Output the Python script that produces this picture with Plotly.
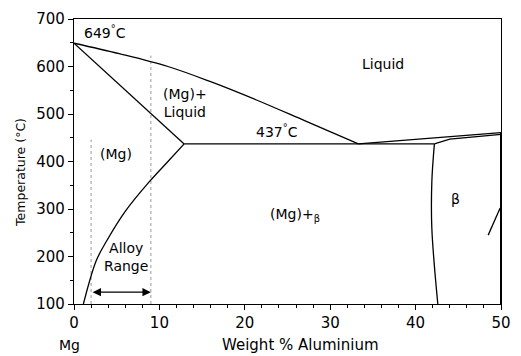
import plotly.graph_objects as go

# Phase boundaries (wt% Al, temperature °C)
liquidus_x = [0, 5.3, 11.0, 16.0, 21.3, 27.0, 33.3]
liquidus_t = [649, 627, 600, 568, 530, 486, 437]

solidus_x = [0, 12.9]
solidus_t = [649, 437]

solvus_x = [12.9, 11.0, 8.8, 6.0, 3.8, 2.6, 1.1]
solvus_t = [437, 400, 357, 295, 232, 191, 100]

eutectic_x = [12.9, 42.2]
eutectic_t = [437, 437]

beta_liq_x = [33.3, 50]
beta_liq_t = [437, 461]

beta_sol_x = [42.2, 44.0, 50]
beta_sol_t = [437, 447, 457]

beta_left_x = [42.2, 41.9, 41.9, 42.6]
beta_left_t = [437, 357, 260, 100]

beta_right_x = [48.5, 49.9]
beta_right_t = [245, 302]

alloy_lo = 2
alloy_hi = 9
alloy_lo_top = 446
alloy_hi_top = 623
arrow_t = 125

x_ticks = [0, 10, 20, 30, 40, 50]
y_ticks = [100, 200, 300, 400, 500, 600, 700]

FONT = "DejaVu Sans"
fig = go.Figure()

def line(xs, ys, color="black", width=1.3, dash="solid", shape="linear"):
    fig.add_trace(go.Scatter(x=xs, y=ys, mode="lines",
                             line=dict(color=color, width=width, dash=dash, shape=shape),
                             showlegend=False, hoverinfo="skip", cliponaxis=False))

line([alloy_lo, alloy_lo], [100, alloy_lo_top], color="#999999", width=1, dash="dot")
line([alloy_hi, alloy_hi], [100, alloy_hi_top], color="#999999", width=1, dash="dot")
line(liquidus_x, liquidus_t, shape="spline")
line(solidus_x, solidus_t)
line(solvus_x, solvus_t, shape="spline")
line(eutectic_x, eutectic_t)
line(beta_liq_x, beta_liq_t)
line(beta_sol_x, beta_sol_t)
line(beta_left_x, beta_left_t, shape="spline")
line(beta_right_x, beta_right_t)
line([50, 50], [100, 461], width=2)

labels = [
    (3.6, 672, "649<sup>°</sup>C"),
    (13.0, 523, "(Mg)+<br>Liquid"),
    (36.2, 606, "Liquid"),
    (23.8, 465, "437<sup>°</sup>C"),
    (4.9, 415, "(Mg)"),
    (25.9, 288, "(Mg)+<sub>β</sub>"),
    (44.7, 322, "β"),
    (6.1, 200, "Alloy<br>Range"),
]
for x, y, t in labels:
    fig.add_annotation(x=x, y=y, text=t, showarrow=False,
                       xanchor="center", yanchor="middle",
                       font=dict(family=FONT, size=14, color="black"))

# double-headed arrow for alloy range
fig.add_annotation(x=alloy_hi, y=arrow_t, ax=alloy_lo, ay=arrow_t,
                   xref="x", yref="y", axref="x", ayref="y", text="",
                   showarrow=True, arrowhead=2, startarrowhead=2,
                   arrowside="end+start", arrowsize=1.3, arrowwidth=1.3,
                   arrowcolor="black")

fig.add_annotation(x=-0.011, y=0, xref="paper", yref="paper", yshift=-41,
                   xanchor="center", yanchor="middle",
                   text="Mg", showarrow=False,
                   font=dict(family=FONT, size=14, color="black"))
fig.add_annotation(x=0.531, y=0, xref="paper", yref="paper", yshift=-41,
                   xanchor="center", yanchor="middle",
                   text="Weight % Aluminium", showarrow=False,
                   font=dict(family=FONT, size=15, color="black"))
fig.add_annotation(x=0, y=0.46, xref="paper", yref="paper", xshift=-53,
                   xanchor="center", yanchor="middle",
                   text="Temperature (°C)", textangle=-90, showarrow=False,
                   font=dict(family=FONT, size=12.5, color="black"))

axis_common = dict(showgrid=False, zeroline=False, showline=True,
                   linecolor="black", linewidth=1.3, mirror=True,
                   ticks="outside", ticklen=5, tickwidth=1, tickcolor="black",
                   tickfont=dict(family=FONT, size=15, color="black"))

fig.update_xaxes(range=[0, 50], tickvals=x_ticks,
                 minor=dict(dtick=2, ticks="outside", ticklen=3, tickcolor="black"),
                 **axis_common)
fig.update_yaxes(range=[100, 700], tickvals=y_ticks,
                 minor=dict(dtick=50, ticks="outside", ticklen=3, tickcolor="black"),
                 **axis_common)

fig.update_layout(width=521, height=356,
                  margin=dict(l=74, r=10, t=15, b=52),
                  paper_bgcolor="white", plot_bgcolor="white",
                  font=dict(family=FONT, color="black"))

# remove the browser's default page margin so the figure fills the window exactly
fig.write_html("out.html",
               config={"displayModeBar": False},
               post_script="document.body.style.margin='0';"
                           "document.body.style.overflow='hidden';")
